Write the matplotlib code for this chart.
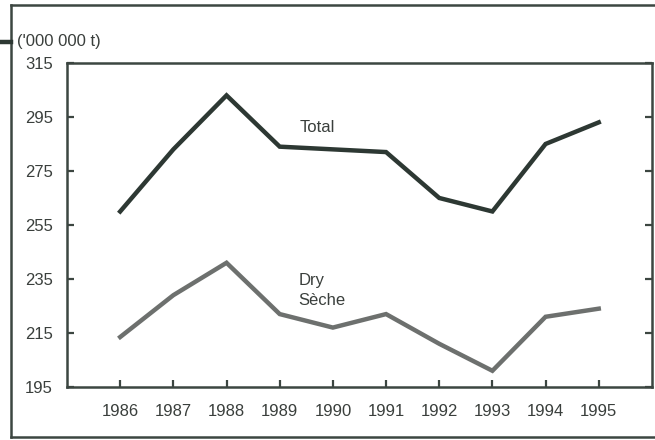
import matplotlib.pyplot as plt
from matplotlib.lines import Line2D

plt.rcParams['font.family'] = ['Liberation Sans', 'DejaVu Sans']

# Data ('000 000 t)
years = [1986, 1987, 1988, 1989, 1990, 1991, 1992, 1993, 1994, 1995]
total = [260, 283, 303, 284, 283, 282, 265, 260, 285, 293]
dry = [213.5, 229, 241, 222, 217, 222, 211, 201, 221, 224]
yticks = [195, 215, 235, 255, 275, 295, 315]

text_col = '#3a3f3c'
frame_col = '#3c4641'
fs = 12

fig = plt.figure(figsize=(6.55, 4.40), dpi=100)
ax = fig.add_axes([0.1023, 0.1205, 0.893, 0.7364])

ax.plot(years, total, color='#2d3833', lw=3.2, solid_joinstyle='miter')
ax.plot(years, dry, color='#6d706e', lw=3.2, solid_joinstyle='miter')

ax.set_xlim(1985, 1996)
ax.set_ylim(195, 315)
ax.set_xticks(years)
ax.set_yticks(yticks)

ax.tick_params(axis='both', direction='in', length=5, width=1.6, color=frame_col,
               labelsize=fs, labelcolor=text_col)
ax.tick_params(axis='y', right=True, pad=10)
ax.tick_params(axis='x', pad=12)

for s in ax.spines.values():
    s.set_color(frame_col)
    s.set_linewidth(1.8)

ax.text(1989.38, 291, 'Total', fontsize=fs, color=text_col, va='center')
ax.text(1989.35, 234.3, 'Dry', fontsize=fs, color=text_col, va='center')
ax.text(1989.35, 227, 'Sèche', fontsize=fs, color=text_col, va='center')

fig.text(0.026, 0.905, "('000 000 t)", fontsize=fs, color=text_col, va='center')

# outer frame around the figure
fig.add_artist(Line2D([0.0168, 0.0168], [0.0068, 0.9886], color=frame_col, lw=1.8))
fig.add_artist(Line2D([0.0168, 1.0], [0.9886, 0.9886], color=frame_col, lw=1.8))
fig.add_artist(Line2D([0.0168, 1.0], [0.0068, 0.0068], color=frame_col, lw=1.8))
fig.add_artist(Line2D([0.0, 0.0168], [0.905, 0.905], color='#2d3833', lw=3.2))

fig.savefig('out.png', dpi=100)
